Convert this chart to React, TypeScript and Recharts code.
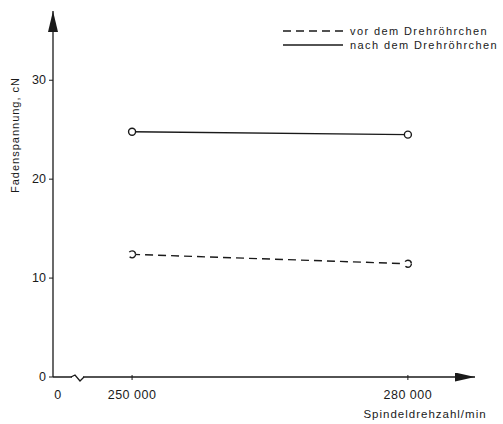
import React from 'react';
import { LineChart, Line, XAxis, YAxis, Legend } from 'recharts';

const spindleSpeeds = [250000, 280000];
const vorValues = [12.4, 11.45];
const nachValues = [24.8, 24.5];
const xTickValues = [241400, 250000, 280000];
const xTickLabels = ['0', '250 000', '280 000'];
const yTickValues = [0, 10, 20, 30];
const seriesNames = ['vor dem Drehröhrchen', 'nach dem Drehröhrchen'];
const xAxisTitle = 'Spindeldrehzahl/min';
const yAxisTitle = 'Fadenspannung, cN';

const data = spindleSpeeds.map((s, i) => ({ speed: s, vor: vorValues[i], nach: nachValues[i] }));

const FONT = '"Liberation Sans", Arial, sans-serif';
const INK = '#1a1a1a';

const XTick = (props: any) => {
  const { x, y, payload, index } = props;
  const label = xTickLabels[xTickValues.indexOf(payload.value)] ?? '';
  return (
    <g>
      {index > 0 && <line x1={x} y1={y - 2} x2={x} y2={y + 3} stroke={INK} strokeWidth={1} />}
      {index === 0 && (
        <g>
          <rect x={x + 19} y={y - 4} width={11} height={8} fill="#fff" />
          <path d={`M${x + 18},${y} L${x + 22},${y - 2} L${x + 27},${y + 4} L${x + 31},${y}`} fill="none" stroke={INK} strokeWidth={1.3} />
        </g>
      )}
      <text x={index === 0 ? x + 5 : x} y={y + 22} textAnchor="middle" fontSize={12.5} fontFamily={FONT} fill={INK} letterSpacing={0.5}>
        {label}
      </text>
    </g>
  );
};

const YTick = (props: any) => {
  const { x, y, payload } = props;
  return (
    <text x={x} y={y + 4} textAnchor="end" fontSize={12.5} fontFamily={FONT} fill={INK}>
      {payload.value}
    </text>
  );
};

const XTitle = () => (
  <text x={425} y={418} textAnchor="middle" fontSize={11.5} fontFamily={FONT} fill={INK} letterSpacing={1}>
    {xAxisTitle}
  </text>
);

const YTitle = () => (
  <text x={19} y={135} transform="rotate(-90, 19, 135)" textAnchor="middle" fontSize={11} fontFamily={FONT} fill={INK} letterSpacing={1}>
    {yAxisTitle}
  </text>
);

const LegendContent = () => (
  <svg width={220} height={34} style={{ overflow: 'visible' }}>
    <line x1={3} y1={9} x2={63} y2={9} stroke={INK} strokeWidth={1.4} strokeDasharray="8 5" />
    <text x={70} y={13} fontSize={11} fontFamily={FONT} fill={INK} letterSpacing={1.4}>{seriesNames[0]}</text>
    <line x1={3} y1={23} x2={63} y2={23} stroke={INK} strokeWidth={1.4} />
    <text x={70} y={27} fontSize={11} fontFamily={FONT} fill={INK} letterSpacing={1.4}>{seriesNames[1]}</text>
  </svg>
);

export default function App() {
  return (
    <div style={{ position: 'absolute', left: 0, top: 0, background: '#fff' }}>
      <LineChart width={503} height={424} data={data} margin={{ top: 11, right: 28, bottom: 0, left: 0 }}>
        <defs>
          <marker id="arrX" markerUnits="userSpaceOnUse" markerWidth={20} markerHeight={9} viewBox="0 0 20 9" refX={20} refY={4.5} orient="auto">
            <path d="M0,0 L20,4.5 L0,9 z" fill={INK} />
          </marker>
          <marker id="arrY" markerUnits="userSpaceOnUse" markerWidth={21} markerHeight={10} viewBox="0 0 21 10" refX={21} refY={5} orient="auto-start-reverse">
            <path d="M0,0 L21,5 L0,10 z" fill={INK} />
          </marker>
        </defs>
        <XAxis
          dataKey="speed"
          type="number"
          domain={[241400, 287300]}
          ticks={xTickValues}
          tick={<XTick />}
          tickLine={false}
          tickSize={0}
          tickMargin={0}
          height={47}
          axisLine={{ stroke: INK, strokeWidth: 1.3, markerEnd: 'url(#arrX)' } as any}
          label={{ content: <XTitle /> } as any}
          allowDataOverflow
        />
        <YAxis
          type="number"
          domain={[0, 37]}
          ticks={yTickValues}
          tick={<YTick />}
          tickSize={4}
          tickMargin={3}
          width={53}
          tickLine={{ stroke: INK }}
          axisLine={{ stroke: INK, strokeWidth: 1.3, markerStart: 'url(#arrY)' } as any}
          label={{ content: <YTitle /> } as any}
          allowDataOverflow
        />
        <Legend
          layout="vertical"
          align="center"
          verticalAlign="middle"
          content={<LegendContent />}
          wrapperStyle={{ left: 280, top: 22, width: 220, height: 34 }}
        />
        <Line
          dataKey="vor"
          name={seriesNames[0]}
          stroke={INK}
          strokeWidth={1.4}
          strokeDasharray="8 5"
          dot={{ r: 3.5, fill: '#fff', stroke: INK, strokeWidth: 1.4 }}
          isAnimationActive={false}
        />
        <Line
          dataKey="nach"
          name={seriesNames[1]}
          stroke={INK}
          strokeWidth={1.4}
          dot={{ r: 3.5, fill: '#fff', stroke: INK, strokeWidth: 1.4 }}
          isAnimationActive={false}
        />
      </LineChart>
    </div>
  );
}
